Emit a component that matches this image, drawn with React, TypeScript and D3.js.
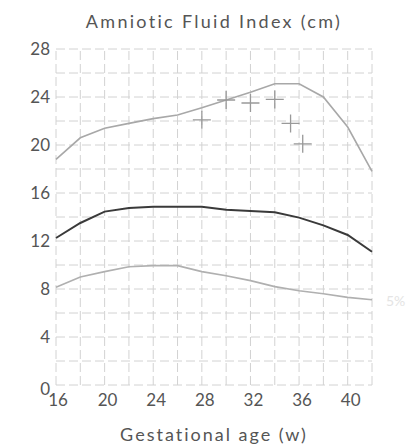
import { useEffect, useRef } from 'react';
import * as d3 from 'd3';

const weeks = [16, 18, 20, 22, 24, 26, 28, 30, 32, 34, 36, 38, 40, 42];
const p95 = [18.8, 20.6, 21.4, 21.8, 22.2, 22.5, 23.1, 23.75, 24.4, 25.1, 25.1, 24.0, 21.5, 17.8];
const p50 = [12.25, 13.5, 14.45, 14.75, 14.85, 14.85, 14.85, 14.6, 14.5, 14.4, 13.95, 13.3, 12.5, 11.1];
const p5 = [8.15, 9.0, 9.45, 9.85, 9.95, 9.95, 9.45, 9.1, 8.7, 8.2, 7.85, 7.6, 7.3, 7.1];
const markerWeeks = [28, 30, 32, 34, 35.3, 36.3];
const markerValues = [22.1, 23.75, 23.5, 23.8, 21.8, 20.1];
const xTicks = [16, 20, 24, 28, 32, 36, 40];
const yTicks = [0, 4, 8, 12, 16, 20, 24, 28];

export default function App() {
  const ref = useRef<HTMLDivElement>(null);
  useEffect(() => {
    const width = 416;
    const height = 446;
    const font = 'Lato, "Open Sans", sans-serif';

    const x = d3.scaleLinear().domain([16, 42]).range([56, 372]);
    const y = d3.scaleLinear().domain([0, 28]).range([385, 49]);

    const svg = d3.create('svg')
      .attr('width', width)
      .attr('height', height)
      .attr('viewBox', [0, 0, width, height])
      .style('position', 'absolute')
      .style('left', '0')
      .style('top', '0')
      .style('background', '#fff');

    // grid
    const grid = svg.append('g')
      .attr('stroke', '#d2d2d2')
      .attr('stroke-width', 1)
      .attr('stroke-dasharray', '9,4');
    grid.selectAll('line.h')
      .data(d3.range(0, 29, 2))
      .join('line')
      .attr('x1', x(16))
      .attr('x2', x(42))
      .attr('y1', (d) => y(d))
      .attr('y2', (d) => y(d));
    grid.selectAll('line.v')
      .data(d3.range(16, 43, 2))
      .join('line')
      .attr('x1', (d) => x(d))
      .attr('x2', (d) => x(d))
      .attr('y1', y(0))
      .attr('y2', y(28));

    const line = d3.line<number>()
      .x((_, i) => x(weeks[i]))
      .y((d) => y(d));

    svg.append('path')
      .attr('d', line(p95))
      .attr('fill', 'none')
      .attr('stroke', '#a8a8a8')
      .attr('stroke-width', 1.6);
    svg.append('path')
      .attr('d', line(p5))
      .attr('fill', 'none')
      .attr('stroke', '#b0b0b0')
      .attr('stroke-width', 1.6);
    svg.append('path')
      .attr('d', line(p50))
      .attr('fill', 'none')
      .attr('stroke', '#3a3a3a')
      .attr('stroke-width', 2);

    // markers
    svg.append('g')
      .attr('stroke', '#999')
      .attr('stroke-width', 1.3)
      .selectAll('path')
      .data(markerValues)
      .join('path')
      .attr('d', (d, i) => {
        const cx = x(markerWeeks[i]);
        const cy = y(d);
        return `M${cx - 9},${cy}H${cx + 9}M${cx},${cy - 9}V${cy + 9}`;
      });

    // tick labels
    svg.append('g')
      .attr('font-family', font)
      .attr('font-size', 17)
      .attr('fill', '#555')
      .attr('text-anchor', 'end')
      .selectAll('text')
      .data(yTicks)
      .join('text')
      .attr('x', 50)
      .attr('y', (d) => (d === 0 ? y(d) + 10 : y(d) + 6))
      .text((d) => d);

    svg.append('g')
      .attr('font-family', font)
      .attr('font-size', 17)
      .attr('fill', '#555')
      .attr('text-anchor', 'middle')
      .selectAll('text')
      .data(xTicks)
      .join('text')
      .attr('x', (d) => (d === 16 ? x(d) + 2 : x(d) + 3))
      .attr('y', 406)
      .text((d) => d);

    svg.append('text')
      .attr('x', 214)
      .attr('y', 28)
      .attr('text-anchor', 'middle')
      .attr('font-family', font)
      .attr('font-size', 18)
      .attr('letter-spacing', 2.3)
      .attr('fill', '#555')
      .text('Amniotic Fluid Index (cm)');

    svg.append('text')
      .attr('x', 214)
      .attr('y', 441)
      .attr('text-anchor', 'middle')
      .attr('font-family', font)
      .attr('font-size', 18)
      .attr('letter-spacing', 2)
      .attr('fill', '#555')
      .text('Gestational age (w)');

    svg.append('text')
      .attr('x', 386)
      .attr('y', 306)
      .attr('font-family', font)
      .attr('font-size', 14)
      .attr('fill', '#e4e4e4')
      .text('5%');

    const node = svg.node()!;
    ref.current?.append(node);
    return () => {
      node.remove();
    };
  });
  return <div ref={ref}></div>;
}
